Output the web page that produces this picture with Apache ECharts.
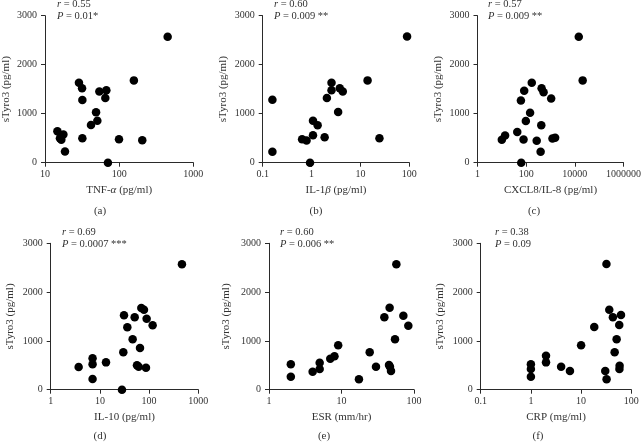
<!DOCTYPE html>
<html>
<head>
<meta charset="utf-8">
<script src="https://cdn.jsdelivr.net/npm/echarts@6/dist/echarts.min.js"></script>
<style>
html,body{margin:0;padding:0;background:#fff;}
#chart{width:644px;height:445px;}
</style>
</head>
<body>
<div id="chart"></div>
<script>
// ---- data ----
const yTicks = [0, 1000, 2000, 3000];
const yName = 'sTyro3 (pg/ml)';

const aX = [14.7, 15.9, 16.6, 17.7, 18.6, 28.7, 31.6, 31.9, 31.9, 41.7, 48.8, 50.8, 54.1, 67.2, 65.1, 70.6, 99.5, 158, 205, 451];
const aY = [642, 500, 470, 574, 230, 1630, 1520, 1280, 500, 770, 1030, 855, 1455, 1480, 1318, 0, 480, 1680, 460, 2570];

const bX = [0.158, 0.158, 0.64, 0.79, 0.93, 1.07, 1.07, 1.33, 1.85, 2.06, 2.56, 2.56, 3.5, 3.78, 4.35, 14, 24.5, 90];
const bY = [1285, 225, 480, 455, 0, 561, 858, 764, 520, 1318, 1480, 1630, 1034, 1520, 1453, 1680, 500, 2575];

const cX = [10, 13.6, 43, 62.7, 60.8, 78, 83, 97, 145, 170, 271, 393, 418, 431, 520, 1065, 1205, 1550, 21000, 14500];
const cY = [466, 554, 628, 0, 1270, 473, 1466, 851, 1020, 1630, 446, 223, 764, 1520, 1439, 1311, 493, 507, 1680, 2570];

const dX = [3.7, 7.1, 7.1, 7.1, 13.3, 28.1, 29.9, 30.9, 36.1, 46.3, 50.9, 56.7, 61.3, 65.3, 69.5, 78.7, 86.4, 89.1, 118, 465];
const dY = [465, 643, 520, 219, 560, 0, 766, 1524, 1278, 1032, 1483, 499, 472, 854, 1675, 1640, 451, 1456, 1319, 2570];

const eX = [2, 2, 4, 5, 5, 7, 8, 9, 17.4, 24.5, 29.9, 39, 46.1, 45.2, 46.6, 48.2, 54.7, 57.1, 71.3, 83.5];
const eY = [520, 267, 369, 554, 424, 636, 684, 909, 212, 766, 472, 1483, 1681, 506, 472, 383, 1032, 2570, 1517, 1312];

const fX = [1, 1, 1, 2, 2, 4, 6, 10, 18.3, 30.3, 32.2, 32, 36.4, 43, 46.6, 51, 57.5, 58.5, 58, 62.3];
const fY = [520, 424, 267, 697, 560, 472, 383, 909, 1285, 383, 212, 2577, 1640, 1483, 766, 1032, 1326, 492, 424, 1531];

const xNames = ['TNF-{g|α} (pg/ml)', 'IL-1{g|β} (pg/ml)', 'CXCL8/IL-8 (pg/ml)', 'IL-10 (pg/ml)', 'ESR (mm/hr)', 'CRP (mg/ml)'];
const xMins = [10, 0.1, 1, 1, 1, 0.1];
const xMaxs = [1000, 100, 1000000, 1000, 100, 100];
const rTexts = ['0.55', '0.60', '0.57', '0.69', '0.60', '0.38'];
const pTexts = ['0.01*', '0.009 **', '0.009 **', '0.0007 ***', '0.006 **', '0.09'];
const captions = ['(a)', '(b)', '(c)', '(d)', '(e)', '(f)'];

// ---- layout ----
const grids = [
  {left: 45, top: 15.7, width: 148.3, height: 147},
  {left: 262.7, top: 15.7, width: 146.6, height: 147},
  {left: 477.5, top: 15.7, width: 146.8, height: 147},
  {left: 50.7, top: 243.3, width: 147.6, height: 146.4},
  {left: 269, top: 243.3, width: 145, height: 146.4},
  {left: 480.7, top: 243.3, width: 150.6, height: 146.4}
];
const yNameGaps = [33, 34, 34, 35, 37, 35];
const annX = [57, 274, 488, 62, 280, 495];
const capX = [100, 316, 534, 100, 324, 538];

const FONT = '"Liberation Serif", "DejaVu Serif", serif';
const TXT = '#333';
const LINE = '#2a2a2a';

const xs = [aX, bX, cX, dX, eX, fX];
const ys = [aY, bY, cY, dY, eY, fY];

function fmt(v) { return String(+Number(v).toPrecision(6)); }

const xAxes = [], yAxes = [], series = [], graphics = [];
for (let i = 0; i < 6; i++) {
  const isC = (i === 2);
  xAxes.push({
    gridIndex: i,
    type: isC ? 'value' : 'log',
    logBase: 10,
    min: isC ? Math.log10(xMins[i]) : xMins[i],
    max: isC ? Math.log10(xMaxs[i]) : xMaxs[i],
    interval: isC ? 2 : undefined,
    name: xNames[i],
    nameLocation: 'middle',
    nameGap: 22,
    nameTextStyle: {fontFamily: FONT, fontSize: 11, color: TXT, verticalAlign: 'top',
      rich: {g: {fontFamily: FONT, fontSize: 11, color: TXT, fontStyle: 'italic'}}},
    axisLine: {show: true, onZero: false, lineStyle: {color: LINE, width: 1}},
    axisTick: {show: true, length: 4, lineStyle: {color: LINE}},
    minorTick: {show: false},
    splitLine: {show: false},
    axisLabel: {fontFamily: FONT, fontSize: 10, color: TXT, margin: 7,
      formatter: isC ? (v => fmt(Math.pow(10, v))) : fmt}
  });
  yAxes.push({
    gridIndex: i,
    type: 'value',
    min: yTicks[0],
    max: yTicks[yTicks.length - 1],
    interval: 1000,
    name: yName,
    nameLocation: 'middle',
    nameRotate: 90,
    nameGap: yNameGaps[i],
    nameTextStyle: {fontFamily: FONT, fontSize: 11, color: TXT},
    axisLine: {show: true, lineStyle: {color: LINE, width: 1}},
    axisTick: {show: true, length: 4, lineStyle: {color: LINE}},
    splitLine: {show: false},
    axisLabel: {fontFamily: FONT, fontSize: 10, color: TXT, margin: 8, formatter: v => String(v)}
  });
  series.push({
    type: 'scatter',
    xAxisIndex: i,
    yAxisIndex: i,
    symbol: 'circle',
    symbolSize: 8.5,
    clip: false,
    itemStyle: {color: '#000', opacity: 1},
    data: xs[i].map((x, k) => [isC ? Math.log10(x) : x, ys[i][k]])
  });
  const topY = grids[i].top;
  graphics.push({
    type: 'text', left: annX[i], top: topY - 17,
    style: {text: '{i|r} = ' + rTexts[i], fontFamily: FONT, fontSize: 10.5, fill: TXT,
      rich: {i: {fontFamily: FONT, fontSize: 10.5, fontStyle: 'italic', fill: TXT}}}
  });
  graphics.push({
    type: 'text', left: annX[i], top: topY - 5,
    style: {text: '{i|P} = ' + pTexts[i], fontFamily: FONT, fontSize: 10.5, fill: TXT,
      rich: {i: {fontFamily: FONT, fontSize: 10.5, fontStyle: 'italic', fill: TXT}}}
  });
  const capY = i < 3 ? 211 : 436;
  graphics.push({
    type: 'text', x: capX[i], y: capY,
    style: {text: captions[i], fontFamily: FONT, fontSize: 11, fill: TXT, align: 'center', verticalAlign: 'middle'}
  });
}

const chart = echarts.init(document.getElementById('chart'), null, {renderer: 'canvas'});
chart.setOption({
  animation: false,
  backgroundColor: '#fff',
  grid: grids.map(g => Object.assign({containLabel: false}, g)),
  xAxis: xAxes,
  yAxis: yAxes,
  series: series,
  graphic: graphics
});
</script>
</body>
</html>
